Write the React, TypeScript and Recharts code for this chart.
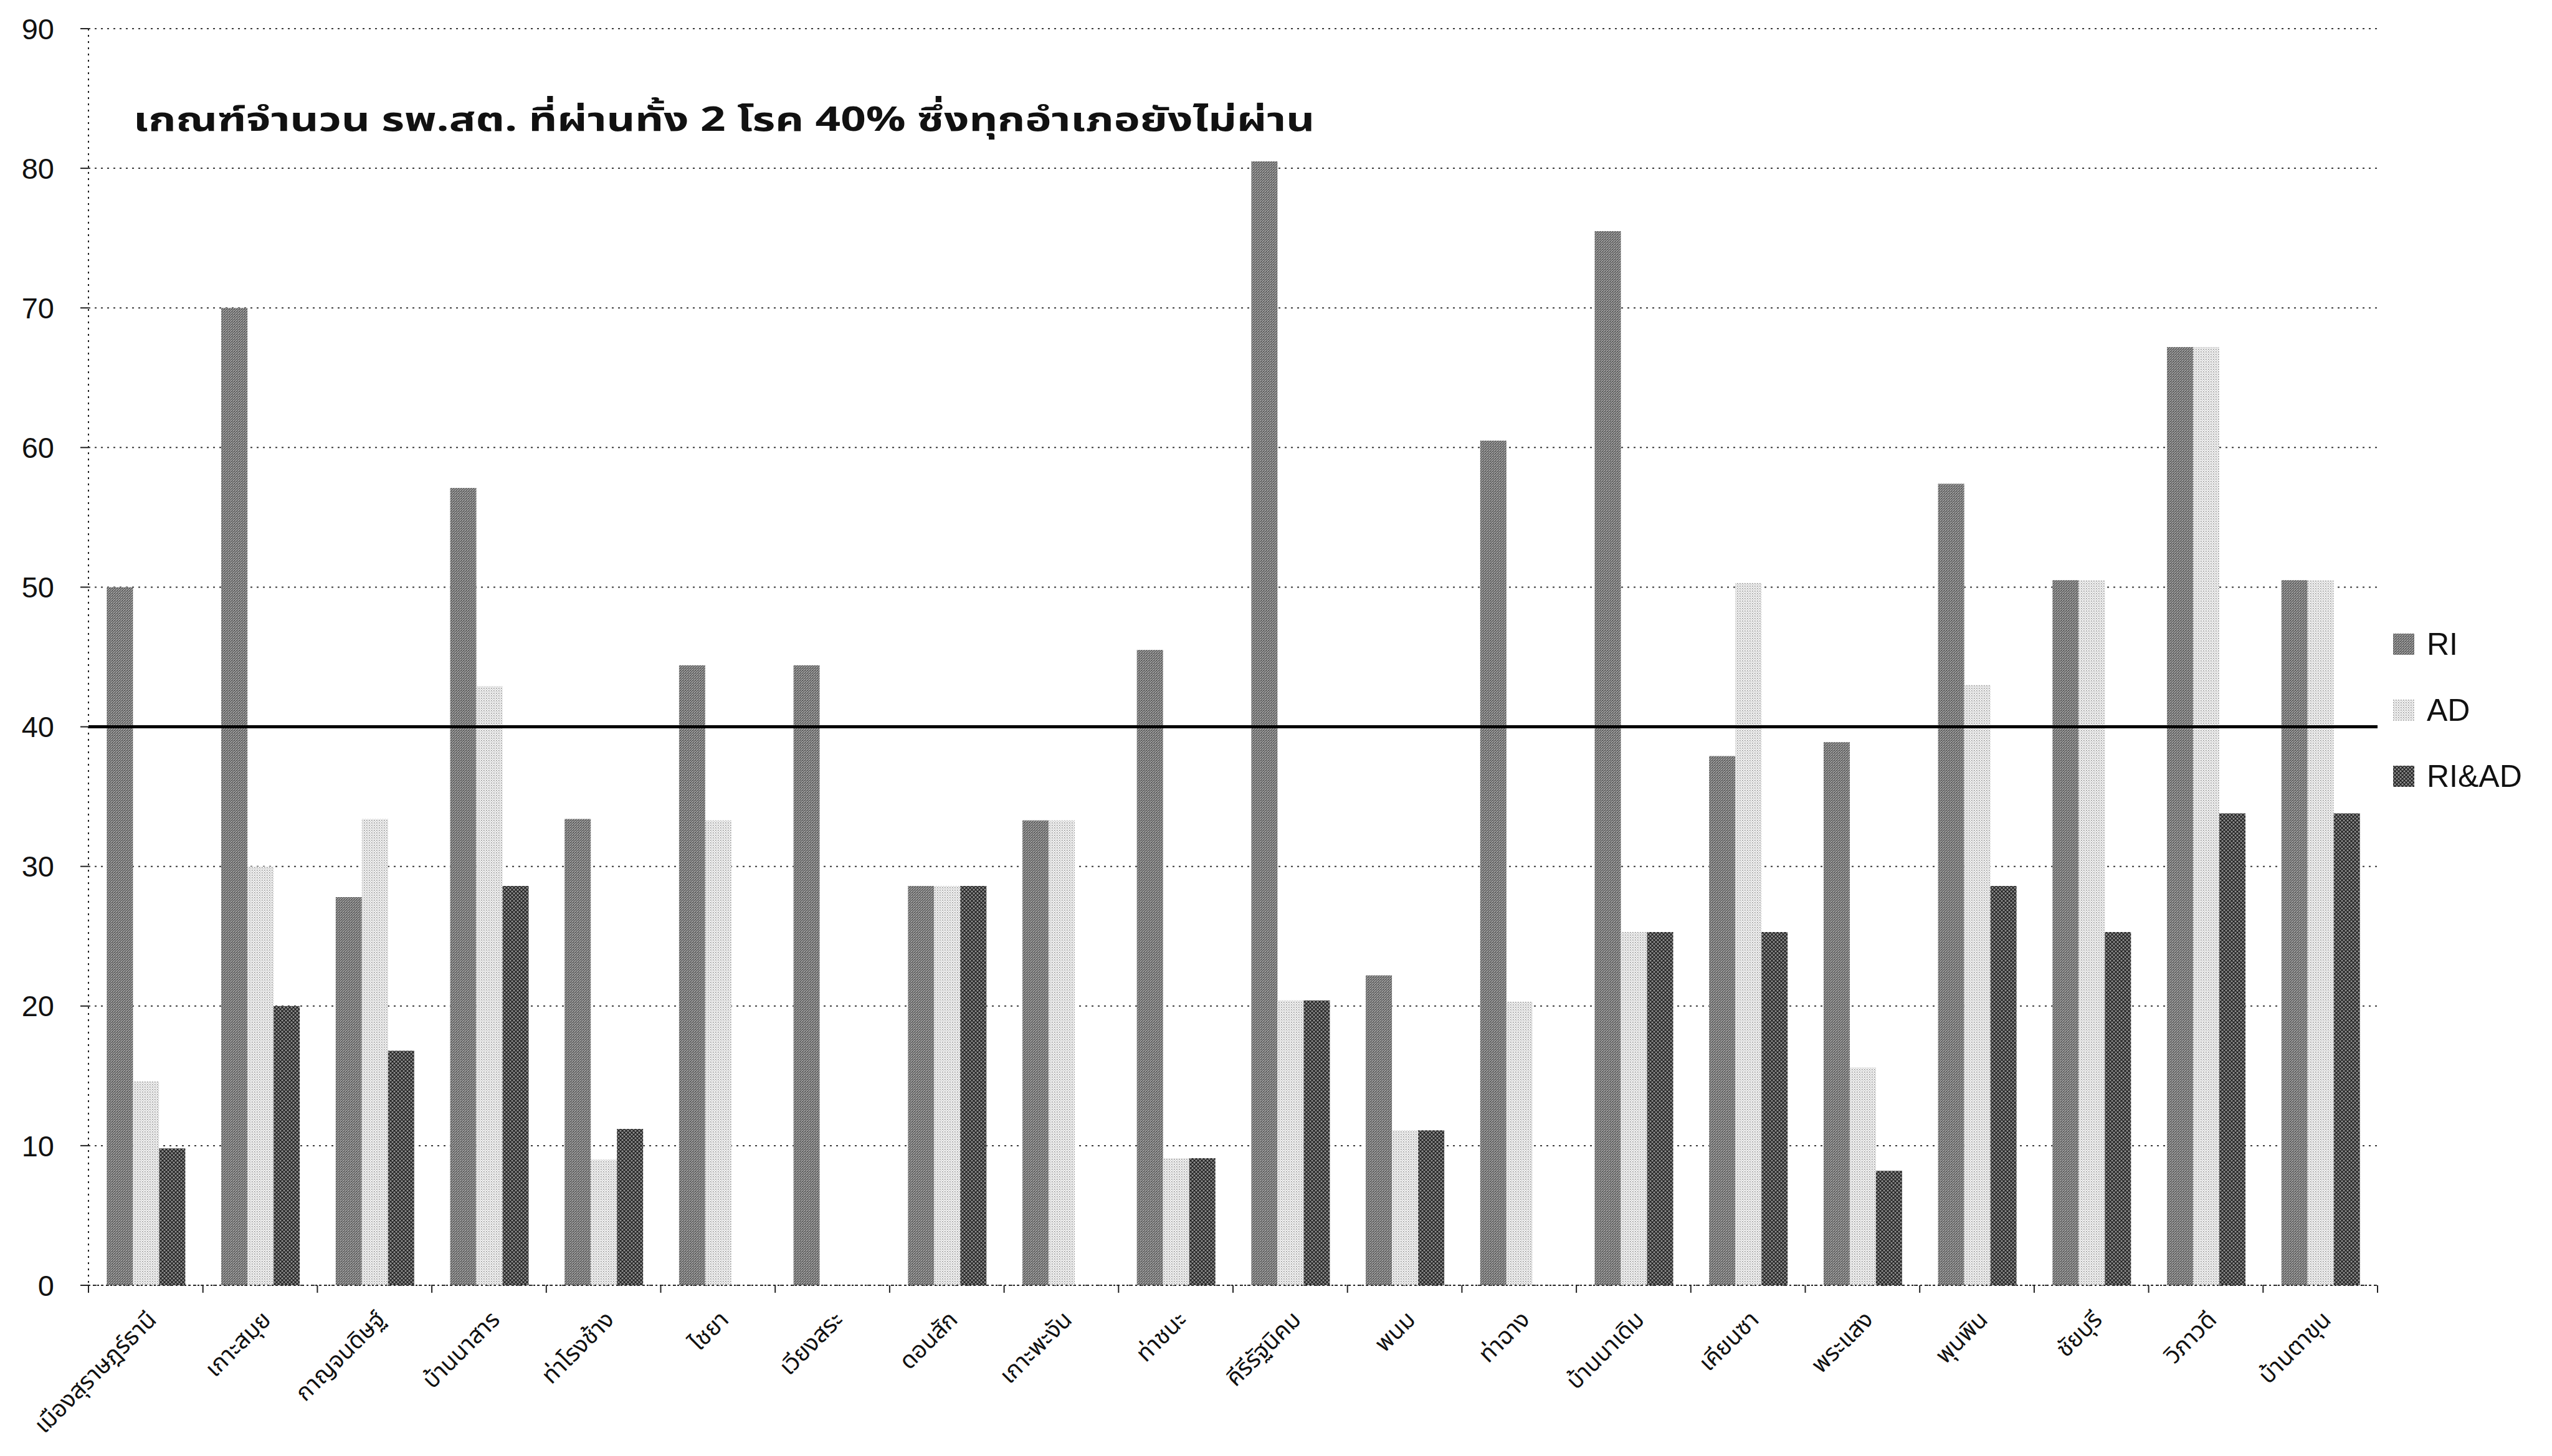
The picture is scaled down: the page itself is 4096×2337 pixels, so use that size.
import { BarChart, Bar, XAxis, YAxis, CartesianGrid, ReferenceLine, Legend } from 'recharts';

const districts = [
  'เมืองสุราษฎร์ธานี', 'เกาะสมุย', 'กาญจนดิษฐ์', 'บ้านนาสาร', 'ท่าโรงช้าง',
  'ไชยา', 'เวียงสระ', 'ดอนสัก', 'เกาะพะงัน', 'ท่าชนะ',
  'คีรีรัฐนิคม', 'พนม', 'ท่าฉาง', 'บ้านนาเดิม', 'เคียนซา',
  'พระแสง', 'พุนพิน', 'ชัยบุรี', 'วิภาวดี', 'บ้านตาขุน',
];
const riValues = [50, 70, 27.8, 57.1, 33.4, 44.4, 44.4, 28.6, 33.3, 45.5, 80.5, 22.2, 60.5, 75.5, 37.9, 38.9, 57.4, 50.5, 67.2, 50.5];
const adValues = [14.6, 30, 33.4, 42.9, 9, 33.3, 0, 28.6, 33.3, 9.1, 20.4, 11.1, 20.3, 25.3, 50.3, 15.6, 43, 50.5, 67.2, 50.5];
const riAdValues = [9.8, 20, 16.8, 28.6, 11.2, 0, 0, 28.6, 0, 9.1, 20.4, 11.1, 0, 25.3, 25.3, 8.2, 28.6, 25.3, 33.8, 33.8];
const seriesNames = ['RI', 'AD', 'RI&AD'];
const yTicks = [0, 10, 20, 30, 40, 50, 60, 70, 80, 90];
const passLine = 40;
const titleText = 'เกณฑ์จำนวน รพ.สต. ที่ผ่านทั้ง 2 โรค 40%  ซึ่งทุกอำเภอยังไม่ผ่าน';

const data = districts.map((name, i) => ({
  name,
  ri: riValues[i],
  ad: adValues[i],
  riad: riAdValues[i],
}));

const W = 4096;
const H = 2337;
const PLOT_LEFT = 142;
const PLOT_RIGHT = 3816;
const PLOT_TOP = 46;
const PLOT_BOTTOM = 2063;
const BAND = (PLOT_RIGHT - PLOT_LEFT) / districts.length;

const thaiFont = "'Noto Sans Thai', 'Noto Serif Thai', Garuda, Loma, Tahoma, sans-serif";
const latinFont = "'Liberation Sans', Arial, sans-serif";

function DistrictTick(props: any) {
  const { x, y, payload, index } = props;
  const ax = x + 10;
  const ay = y + 48;
  return (
    <g>
      <line x1={x - BAND / 2} x2={x - BAND / 2} y1={y} y2={y + 12} stroke="#222" strokeWidth={2} />
      {index === districts.length - 1 && (
        <line x1={x + BAND / 2} x2={x + BAND / 2} y1={y} y2={y + 12} stroke="#222" strokeWidth={2} />
      )}
      <text
        x={ax}
        y={ay}
        dy="0.35em"
        textAnchor="end"
        transform={`rotate(-45, ${ax}, ${ay})`}
        fontSize={38}
        fontFamily={thaiFont}
        fill="#111"
      >
        {payload.value}
      </text>
    </g>
  );
}

function LegendBox(props: any) {
  const { payload = [] } = props;
  // keep series order, not alphabetical
  const items = [...payload].sort(
    (a: any, b: any) => seriesNames.indexOf(a.value) - seriesNames.indexOf(b.value),
  );
  return (
    <div>
      {items.map((item: any) => (
        <div key={item.value} style={{ display: 'flex', alignItems: 'center', height: 106 }}>
          <svg width={34} height={34} style={{ display: 'block' }}>
            <rect width={34} height={34} fill={item.color} />
          </svg>
          <span style={{ marginLeft: 20, fontSize: 50, fontFamily: latinFont, color: '#111' }}>{item.value}</span>
        </div>
      ))}
    </div>
  );
}

export default function App() {
  return (
    <div style={{ position: 'fixed', left: 0, top: 0, width: W, height: H, background: '#fff' }}>
      <BarChart
        width={W}
        height={H}
        data={data}
        margin={{ top: PLOT_TOP, right: W - PLOT_RIGHT, bottom: 0, left: 0 }}
        barGap={0}
        barCategoryGap="16%"
      >
        <defs>
          <pattern id="pRI" width={4} height={4} patternUnits="userSpaceOnUse">
            <rect width={4} height={4} fill="#a2a2a2" />
            <path d="M0 4 L4 0" stroke="#505050" strokeWidth={1.2} />
            <rect x={0} y={0} width={1} height={1} fill="#3c3c3c" />
          </pattern>
          <pattern id="pAD" width={4} height={4} patternUnits="userSpaceOnUse">
            <rect width={4} height={4} fill="#efefef" />
            <rect x={0} y={0} width={1.5} height={1.5} fill="#8a8a8a" />
            <rect x={2} y={2} width={1} height={1} fill="#b0b0b0" />
          </pattern>
          <pattern id="pRIAD" width={6} height={6} patternUnits="userSpaceOnUse">
            <rect width={6} height={6} fill="#8e8e8e" />
            <path d="M0 0 L6 6 M6 0 L0 6" stroke="#1e1e1e" strokeWidth={1.3} />
          </pattern>
        </defs>
        <CartesianGrid vertical={false} stroke="#3a3a3a" strokeDasharray="3 7" strokeWidth={2} />
        <XAxis
          dataKey="name"
          interval={0}
          height={H - PLOT_BOTTOM}
          tickLine={false}
          tickSize={0}
          tickMargin={0}
          axisLine={{ stroke: '#222', strokeWidth: 2, strokeDasharray: '3 4' }}
          tick={<DistrictTick />}
        />
        <YAxis
          width={PLOT_LEFT}
          domain={[0, 90]}
          ticks={yTicks}
          interval={0}
          tickSize={13}
          tickMargin={42}
          tickLine={{ stroke: '#222', strokeWidth: 2 }}
          axisLine={{ stroke: '#222', strokeWidth: 2, strokeDasharray: '3 7' }}
          tick={{ fontSize: 47, fontFamily: latinFont, fill: '#111' }}
        />
        <Bar dataKey="ri" name={seriesNames[0]} fill="url(#pRI)" isAnimationActive={false} />
        <Bar dataKey="ad" name={seriesNames[1]} fill="url(#pAD)" isAnimationActive={false} />
        <Bar dataKey="riad" name={seriesNames[2]} fill="url(#pRIAD)" isAnimationActive={false} />
        <ReferenceLine y={passLine} stroke="#000" strokeWidth={5} />
        <Legend
          layout="vertical"
          align="center"
          verticalAlign="middle"
          wrapperStyle={{ left: 3841, top: 981, width: 240 }}
          content={<LegendBox />}
        />
      </BarChart>
      <svg
        width={W}
        height={320}
        style={{ position: 'absolute', left: 0, top: 0, pointerEvents: 'none' }}
      >
        <text
          x={214}
          y={191}
          dy="0.35em"
          fontSize={54}
          fontWeight="bold"
          fontFamily={thaiFont}
          fill="#111"
          textLength={1896}
          lengthAdjust="spacingAndGlyphs"
        >
          {titleText}
        </text>
      </svg>
    </div>
  );
}
